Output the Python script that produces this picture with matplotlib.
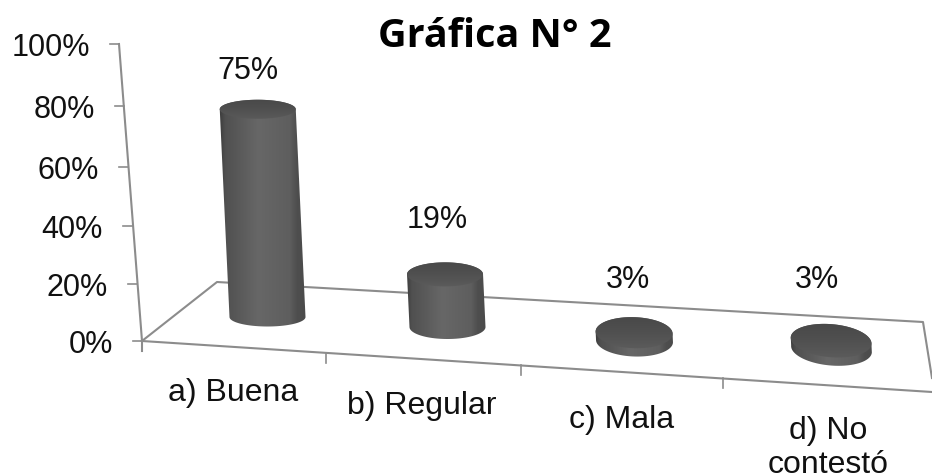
import numpy as np
import matplotlib
matplotlib.use('Agg')
import matplotlib.pyplot as plt
from matplotlib.colors import LinearSegmentedColormap
from matplotlib.patches import Polygon

categories = ['a) Buena', 'b) Regular', 'c) Mala', 'd) No\ncontestó']
values = [75, 19, 3, 3]
value_labels = ['75%', '19%', '3%', '3%']
tick_labels = ['0%', '20%', '40%', '60%', '80%', '100%']
title = 'Gráfica N° 2'

# pixel layout of the fake 3D chart
px_per_pct = 2.77
slant_per_pct = 0.13
base_x = [267.5, 447.5, 634.5, 831.5]
base_y = [318, 328, 342, 350]
radius_x = [38, 38, 38.5, 40.5]
radius_y = [9.5, 12, 15.5, 16.5]
tilt = [0, 0, 2, 5]
axis_y = [342, 285, 227, 168, 107, 45]
axis_x = [142, 137, 132, 128, 124, 119]
label_pos = [(233, 393), (422, 406), (622, 420), (828, 448)]
value_pos = [(248, 71), (437, 220), (628, 280), (817, 280)]

LINE = '#8c8c8c'
TEXT = '#111111'

plt.rcParams['font.family'] = ['Liberation Sans', 'DejaVu Sans']

fig = plt.figure(figsize=(9.32, 4.77), dpi=100)
ax = fig.add_axes([0, 0, 1, 1])

body_cmap = LinearSegmentedColormap.from_list('body', [
    (0, '#383838'), (0.08, '#505050'), (0.45, '#676767'),
    (0.8, '#5e5e5e'), (0.88, '#4e4e4e'), (1, '#4a4a4a')])
top_cmap = LinearSegmentedColormap.from_list('top', ['#484848', '#505050', '#5c5c5c'])


def ellipse_pts(cx, cy, rx, ry, angle, t):
    a = np.radians(angle)
    x = cx + rx * np.cos(t) * np.cos(a) - ry * np.sin(t) * np.sin(a)
    y = cy + rx * np.cos(t) * np.sin(a) + ry * np.sin(t) * np.cos(a)
    return np.column_stack([x, y])


def cylinder(val, bx, by, rx, ry, angle):
    tx = bx - val * slant_per_pct
    ty = by - val * px_per_pct
    front = ellipse_pts(bx, by, rx, ry, angle, np.linspace(0, np.pi, 60))
    rear = ellipse_pts(tx, ty, rx, ry, angle, np.linspace(np.pi, 2 * np.pi, 60))
    body = Polygon(np.vstack([front, rear]), closed=True, fc='none', ec='none')
    ax.add_patch(body)
    left = min(tx, bx) - rx - 2
    right = max(tx, bx) + rx + 2
    im = ax.imshow(np.linspace(0, 1, 200).reshape(1, -1), cmap=body_cmap, vmin=0, vmax=1,
                   extent=[left, right, by + ry + 2, ty - ry - 2], aspect='auto', zorder=3)
    im.set_clip_path(body)
    cap = Polygon(ellipse_pts(tx, ty, rx, ry, angle, np.linspace(0, 2 * np.pi, 120)),
                  closed=True, fc='none', ec='none')
    ax.add_patch(cap)
    im2 = ax.imshow(np.linspace(0, 1, 50).reshape(-1, 1), cmap=top_cmap, vmin=0, vmax=1,
                    extent=[tx - rx - 2, tx + rx + 2, ty + ry + 2, ty - ry - 2],
                    aspect='auto', zorder=4)
    im2.set_clip_path(cap)


# walls and floor
ax.plot([axis_x[-1], axis_x[0], axis_x[0]], [axis_y[-1], axis_y[0], 352], color=LINE, lw=1.5)
for x, y, lab in zip(axis_x, axis_y, tick_labels):
    ax.plot([x - 9.5, x], [y, y], color=LINE, lw=1.2)
    ax.text(x - 29, y + 3, lab, ha='right', va='center', fontsize=22, color=TEXT)
ax.plot([142, 217, 923, 932], [342, 283, 323, 379], color=LINE, lw=1.5)
ax.plot([142, 932], [342, 393], color=LINE, lw=1.5)
for x in [326, 521, 723]:
    ax.plot([x, x], [342 + (x - 142) * 0.0645, 352 + (x - 142) * 0.0645], color=LINE, lw=1.2)

for v, bx, by, rx, ry, ang in zip(values, base_x, base_y, radius_x, radius_y, tilt):
    cylinder(v, bx, by, rx, ry, ang)

for (x, y), lab in zip(value_pos, value_labels):
    ax.text(x, y, lab, ha='center', va='center', fontsize=22, color=TEXT)
for (x, y), lab in zip(label_pos, categories):
    ax.text(x, y, lab, ha='center', va='center', fontsize=23, color=TEXT, linespacing=1.2)

ax.text(494.5, 47, title, ha='center', va='baseline', fontsize=28.5, fontweight='bold',
        family=['Open Sans', 'DejaVu Sans'], color='#000000')

ax.set_xlim(0, 932)
ax.set_ylim(477, 0)
ax.axis('off')
fig.savefig('out.png', dpi=100)
